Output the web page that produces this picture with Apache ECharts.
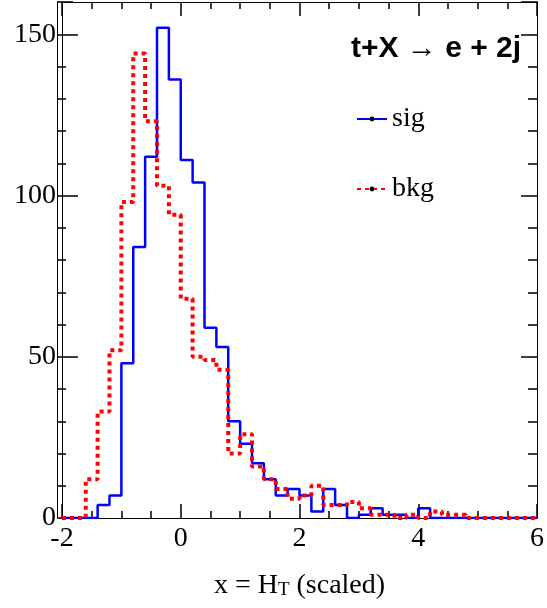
<!DOCTYPE html>
<html>
<head>
<meta charset="utf-8">
<script src="https://cdn.jsdelivr.net/npm/echarts@6/dist/echarts.min.js"></script>
<style>
html,body{margin:0;padding:0;background:#fff;}
#chart{width:547px;height:608px;}
</style>
</head>
<body>
<div id="chart"></div>
<script>
// Bin edges (x = H_T scaled), 40 bins of width 0.2
const binEdges = [-2.0,-1.8,-1.6,-1.4,-1.2,-1.0,-0.8,-0.6,-0.4,-0.2,
                  0.0,0.2,0.4,0.6,0.8,1.0,1.2,1.4,1.6,1.8,
                  2.0,2.2,2.4,2.6,2.8,3.0,3.2,3.4,3.6,3.8,
                  4.0,4.2,4.4,4.6,4.8,5.0,5.2,5.4,5.6,5.8,6.0];
// Bin contents
const sigCounts = [0,0,0,4,7,48,84,112,152,136,
                   111,104,59,53,30,23,17,12,7,9,
                   7,2,9,4,0,1,3,1,1,0,
                   3,0,0,0,0,0,0,0,0,0];
const bkgCounts = [0,0,12,33,52,98,144,123,103,94,
                   68,50,49,46,20,26,16,12,9,6,
                   7,10,4,4,5,3,1,1,0,1,
                   0,2,1,1,0,0,0,0,0,0];
const seriesNames = ['sig','bkg'];
const xTicks = [-2,0,2,4,6];
const yTicks = [0,50,100,150];
const titleText = 't+X → e + 2j';
const xTitleParts = ['x = H', 'T', ' (scaled)'];

function stepData(counts){
  return binEdges.map((e,i)=>[e, i < counts.length ? counts[i] : counts[counts.length-1]]);
}

const serif = 'Liberation Serif';
const xMin = xTicks[0], xMax = xTicks[xTicks.length-1];
const yMin = 0, yMax = 160;
const tickW = 1.5;
const gridL = 62, gridR = 5, gridT = 2, gridB = 90;
const plotW = 547 - gridL - gridR;

function xAx(pos, showLabel){
  return {
    type:'value', position:pos, min:xMin, max:xMax, interval:xTicks[1]-xTicks[0],
    axisLine:{show:true, onZero:false, lineStyle:{color:'#000', width:1}},
    axisTick:{show:true, inside:true, length:14, lineStyle:{color:'#000', width:tickW}},
    minorTick:{show:true, splitNumber:4, length:7, lineStyle:{color:'#000', width:tickW}},
    splitLine:{show:false},
    axisLabel:{show:showLabel, margin:7, fontFamily:serif, fontSize:28, color:'#000'},
    name: showLabel ? '{a|'+xTitleParts[0]+'}{s|'+xTitleParts[1]+'}{a|'+xTitleParts[2]+'}' : '',
    nameLocation:'middle', nameGap:50,
    nameTextStyle:{rich:{
      a:{fontFamily:serif, fontSize:28, color:'#000', lineHeight:32, verticalAlign:'bottom'},
      s:{fontFamily:serif, fontSize:19, color:'#000', lineHeight:20, verticalAlign:'bottom'}
    }}
  };
}
// y axes drawn on the right side (ticks render reliably there); negative offset places a copy at the left frame
function yAx(pos, interval, len, showLabel, offset, inside){
  return {
    type:'value', position:pos, offset:offset, min:yMin, max:yMax, interval:interval,
    axisLine:{show:true, onZero:false, lineStyle:{color:'#000', width:1}},
    axisTick:{show:true, inside:inside, length:len, lineStyle:{color:'#000', width:tickW}},
    splitLine:{show:false},
    axisLabel:{show:showLabel, margin:6, fontFamily:serif, fontSize:28, color:'#000', showMaxLabel:false}
  };
}

const chart = echarts.init(document.getElementById('chart'));
chart.setOption({
  animation:false,
  backgroundColor:'#fff',
  grid:{left:gridL, right:gridR, top:gridT, bottom:gridB},
  title:{
    text:titleText, left:351, top:34, padding:0,
    textStyle:{fontFamily:'Liberation Sans', fontWeight:'bold', fontSize:30, color:'#000'}
  },
  legend:{
    orient:'vertical', left:356, top:104, padding:0,
    itemWidth:30, itemHeight:6, itemGap:40,
    data:seriesNames,
    itemStyle:{color:'#000'},
    textStyle:{fontFamily:serif, fontSize:28, color:'#000', lineHeight:30}
  },
  xAxis:[xAx('bottom', true), xAx('top', false)],
  yAxis:[
    yAx('left', yTicks[1]-yTicks[0], 16, true, 0, true),
    yAx('right', yTicks[1]-yTicks[0], 16, false, -plotW, false),
    yAx('right', 10, 9, false, -plotW, false),
    yAx('right', yTicks[1]-yTicks[0], 16, false, 0, true),
    yAx('right', 10, 9, false, 0, true)
  ],
  series:[
    {name:seriesNames[0], type:'line', step:'end', data:stepData(sigCounts),
     xAxisIndex:0, yAxisIndex:0, symbol:'circle', symbolSize:4, showSymbol:false,
     lineStyle:{color:'#0000ff', width:2.5}, itemStyle:{color:'#0000ff'}},
    {name:seriesNames[1], type:'line', step:'end', data:stepData(bkgCounts),
     xAxisIndex:0, yAxisIndex:0, symbol:'circle', symbolSize:4, showSymbol:false,
     lineStyle:{color:'#ff0000', width:4, type:[4,4]}, itemStyle:{color:'#ff0000'}}
  ]
});
</script>
</body>
</html>
